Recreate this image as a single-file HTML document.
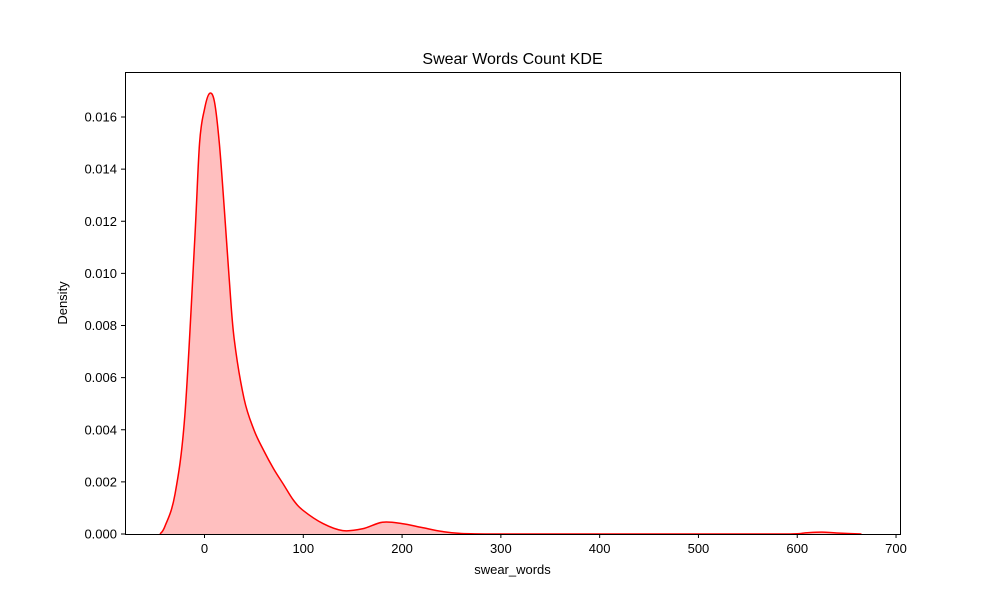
<!DOCTYPE html>
<html><head><meta charset="utf-8"><style>
body{margin:0;background:#fff;}
svg text{font-family:"Liberation Sans","DejaVu Sans",sans-serif;fill:#000;}
</style></head><body>
<svg id="chart" width="1000" height="600" xmlns="http://www.w3.org/2000/svg">
<rect x="0" y="0" width="1000" height="600" fill="#fff"/>
<g id="plot"></g>
<rect x="125.5" y="72.5" width="775" height="462" fill="none" stroke="#000" stroke-width="1"/>
<g id="xticks"></g><g id="yticks"></g>
<text x="512.5" y="64" font-size="16" text-anchor="middle">Swear Words Count KDE</text>
<text x="512.5" y="574" font-size="13" text-anchor="middle">swear_words</text>
<text x="0" y="0" font-size="13" text-anchor="middle" transform="translate(67,303) rotate(-90)">Density</text>
</svg>
<script>
const xs=[-45,-40,-30,-20,-10,-5,0,5,10,15,20,25,30,40,50,60,70,80,90,100,120,140,160,180,200,220,240,260,300,400,500,590,610,625,640,665];
const ys=[0,0.0003,0.0015,0.0045,0.0112,0.0150,0.0163,0.0169,0.0166,0.0150,0.0125,0.0098,0.0075,0.0052,0.0040,0.0032,0.0025,0.0019,0.0013,0.0009,0.0004,0.00013,0.0002,0.00045,0.0004,0.00025,0.0001,0.00002,0,0,0,0,0.00005,0.00007,0.00004,0];
const xTicks=[0,100,200,300,400,500,600,700];
const yTicks=[0,0.002,0.004,0.006,0.008,0.010,0.012,0.014,0.016];
const NS="http://www.w3.org/2000/svg";
const X=v=>204.5+v*0.9879;
const Y=v=>534-v*26062;
function el(t,a,p){const e=document.createElementNS(NS,t);for(const k in a)e.setAttribute(k,a[k]);p.appendChild(e);return e;}
const pts=xs.map((x,i)=>[X(x),Y(ys[i])]);
let d="M"+pts[0][0]+","+pts[0][1];
for(let i=0;i<pts.length-1;i++){
 const p0=pts[Math.max(0,i-1)],p1=pts[i],p2=pts[i+1],p3=pts[Math.min(pts.length-1,i+2)];
 let c1y=p1[1]+(p2[1]-p0[1])/6,c2y=p2[1]-(p3[1]-p1[1])/6;
 c1y=Math.min(c1y,534);c2y=Math.min(c2y,534);
 d+=` C${p1[0]+(p2[0]-p0[0])/6},${c1y} ${p2[0]-(p3[0]-p1[0])/6},${c2y} ${p2[0]},${p2[1]}`;
}
const plot=document.getElementById('plot');
const fill=el('path',{d:d+` L${pts[pts.length-1][0]},534 L${pts[0][0]},534 Z`,fill:'#ffbfbf',stroke:'none'},plot);


const line=el('path',{d:d,fill:'none',stroke:'#ff0000','stroke-width':1.5},plot);


const xg=document.getElementById('xticks');
xTicks.forEach(t=>{const x=X(t);
 el('line',{x1:x,x2:x,y1:534.5,y2:538,stroke:'#000'},xg);
 const tx=el('text',{x:x,y:553,'font-size':13,'text-anchor':'middle'},xg);tx.textContent=t;
 
 });
const yg=document.getElementById('yticks');
yTicks.forEach(t=>{const y=Y(t);
 el('line',{x1:121,x2:125.5,y1:y,y2:y,stroke:'#000'},yg);
 const tx=el('text',{x:117,y:y+4.5,'font-size':13,'text-anchor':'end'},yg);tx.textContent=t.toFixed(3);
 
 });
</script>
</body></html>
